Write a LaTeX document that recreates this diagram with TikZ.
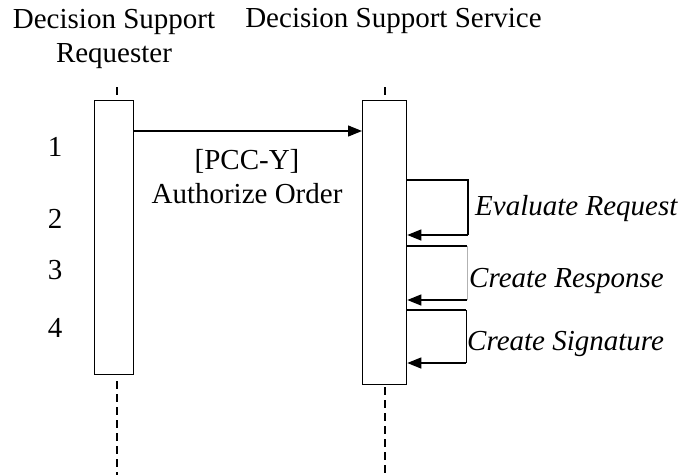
\documentclass[tikz,border=0pt]{standalone}
\usepackage{fontspec}
\setmainfont{Liberation Serif}
\usetikzlibrary{arrows.meta}
\begin{document}
\begin{tikzpicture}[x=1pt,y=-1pt,
  act/.style={draw, line width=1.3pt, fill=white, inner sep=0pt, anchor=north west},
  msg/.style={line width=1.3pt, -{Triangle[length=14pt,width=11pt]}},
  lifeline/.style={line width=1.3pt, dash pattern=on 8pt off 5pt},
  txt/.style={font=\fontsize{29}{34}\selectfont, inner sep=0pt},
  itxt/.style={font=\fontsize{29}{34}\selectfont\itshape, inner sep=0pt, anchor=west}]
\useasboundingbox (0,0) rectangle (682,475);
% headers
\node[txt, align=center] (hA) at (114,38.5) {Decision Support\\Requester};
\node[txt] (hB) at (393.5,21.4) {Decision Support Service};
% activation boxes
\node[act, minimum width=39pt, minimum height=274pt] (A) at (94,100) {};
\node[act, minimum width=44pt, minimum height=284pt] (B) at (362,100) {};
% lifelines
\coordinate (At) at (117,87);
\coordinate (Bt) at (385,87);
\coordinate (Ab) at (117,475);
\coordinate (Bb) at (385,475);
\draw[lifeline] (At) -- (At |- A.north);
\draw[lifeline] (Bt) -- (Bt |- B.north);
\draw[lifeline] ([yshift=-6pt]Ab |- A.south) -- (Ab);
\draw[lifeline] ([yshift=-2pt]Bb |- B.south) -- (Bb);
% message 1
\coordinate (m1) at (0,131);
\draw[msg] (A.east |- m1) -- (B.west |- m1);
\node[txt, align=center] (l1) at (247,177) {[PCC-Y]\\Authorize Order};
% self messages
\coordinate (s1t) at (468,180);
\coordinate (s1b) at (468,235);
\draw[line width=1.3pt] (B.east |- s1t) -- (s1t) -- (s1b);
\draw[msg] (s1b) -- (B.east |- s1b);
\node[itxt] (e1) at (475,209) {Evaluate Request};
\coordinate (s2t) at (467,246);
\coordinate (s2b) at (467,300);
\draw[line width=1.3pt] (B.east |- s2t) -- (s2t);
\draw[line width=0.5pt, gray!60] (s2t) -- (s2b);
\draw[msg] (s2b) -- (B.east |- s2b);
\node[itxt] (e2) at (469,281) {Create Response};
\coordinate (s3t) at (466,310);
\coordinate (s3b) at (466,363);
\draw[line width=1.3pt] (B.east |- s3t) -- (s3t);
\draw[line width=0.8pt] (s3t) -- (s3b);
\draw[msg] (s3b) -- (B.east |- s3b);
\node[itxt] (e3) at (467,344) {Create Signature};
% step numbers
\node[txt] (n1) at (55,147) {1};
\node[txt] (n2) at (55,219) {2};
\node[txt] (n3) at (55,270) {3};
\node[txt] (n4) at (55,328) {4};
\end{tikzpicture}
\end{document}
